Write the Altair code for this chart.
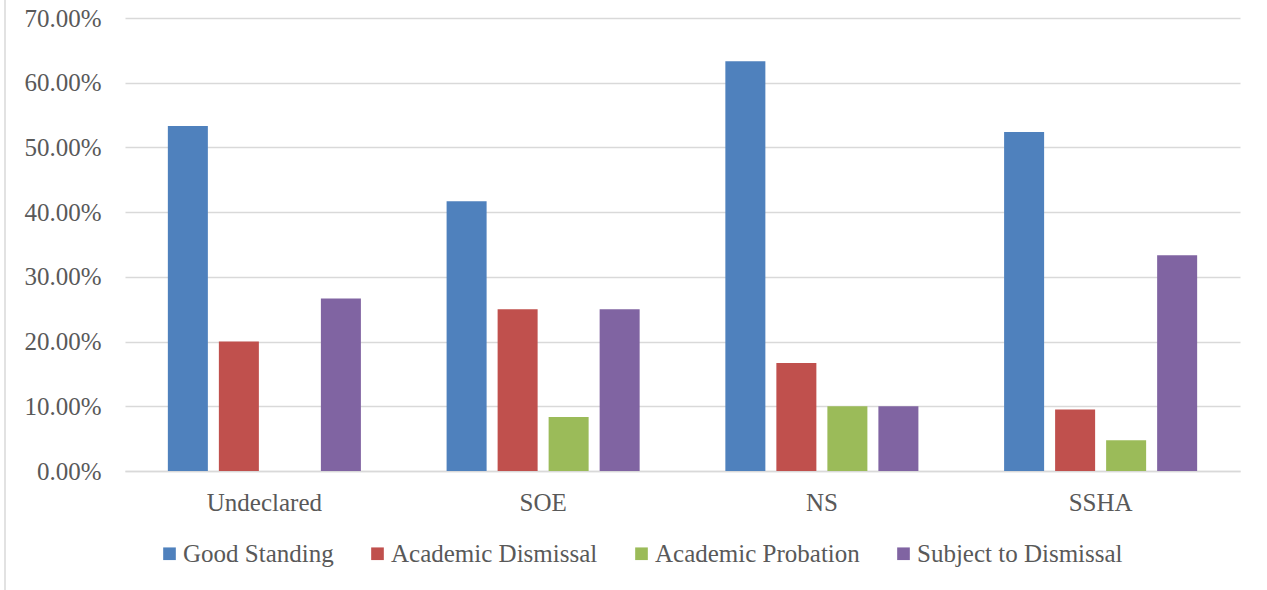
import altair as alt
import pandas as pd

# Academic standing share by college
colleges = ["Undeclared", "SOE", "NS", "SSHA"]
statuses = ["Good Standing", "Academic Dismissal", "Academic Probation", "Subject to Dismissal"]
good_standing = [0.5333, 0.4167, 0.6333, 0.5238]
academic_dismissal = [0.2000, 0.2500, 0.1667, 0.0952]
academic_probation = [0.0000, 0.0833, 0.1000, 0.0476]
subject_to_dismissal = [0.2667, 0.2500, 0.1000, 0.3333]
y_ticks = [0.0, 0.1, 0.2, 0.3, 0.4, 0.5, 0.6, 0.7]
palette = ["#4F81BD", "#C0504D", "#9BBB59", "#8064A2"]

series = [good_standing, academic_dismissal, academic_probation, subject_to_dismissal]
rows = []
for status, values in zip(statuses, series):
    for college, v in zip(colleges, values):
        rows.append({"college": college, "status": status, "share": v})
df = pd.DataFrame(rows)

FONT = "Liberation Serif"
TEXT = "#595959"
GRID = "#d9d9d9"

bars = alt.Chart(df).mark_bar().encode(
    x=alt.X(
        "college:N",
        sort=colleges,
        scale=alt.Scale(paddingInner=0, paddingOuter=0),
        axis=alt.Axis(
            title=None, labelAngle=0, ticks=False, labelPadding=19,
            domainColor=GRID, domainWidth=1.5,
        ),
    ),
    xOffset=alt.XOffset(
        "status:N", sort=statuses,
        scale=alt.Scale(paddingInner=0.2157, paddingOuter=0.84),
    ),
    y=alt.Y(
        "share:Q",
        scale=alt.Scale(domain=[0, 0.7], nice=False),
        axis=alt.Axis(
            values=y_ticks, format=".2%", title=None, domain=False, ticks=False,
            gridColor=GRID, gridWidth=1.5, labelPadding=24,
        ),
    ),
    color=alt.Color(
        "status:N",
        sort=statuses,
        scale=alt.Scale(domain=statuses, range=palette),
        legend=alt.Legend(
            title=None, orient="none", legendX=32, legendY=523,
            direction="horizontal", symbolType="square", symbolSize=160,
            symbolStrokeWidth=0, labelOffset=1, columnPadding=31, labelLimit=0,
        ),
    ),
)

# thin frame line along the left edge
frame = alt.Chart(alt.Data(values=[{}])).mark_rule(color=GRID, strokeWidth=1.5).encode(
    x=alt.value(-120), y=alt.value(-18), y2=alt.value(572)
)

chart = (
    alt.layer(frame, bars)
    .properties(
        width=1115,
        height=453,
        padding={"left": 125, "top": 18, "right": 27, "bottom": 119},
        autosize=alt.AutoSizeParams(type="none"),
        background="white",
    )
    .configure_view(stroke=None)
    .configure_axis(labelFont=FONT, labelColor=TEXT, labelFontSize=25)
    .configure_legend(labelFont=FONT, labelColor=TEXT, labelFontSize=25)
)

chart.save("out.html", embed_options={"renderer": "svg", "actions": False})
